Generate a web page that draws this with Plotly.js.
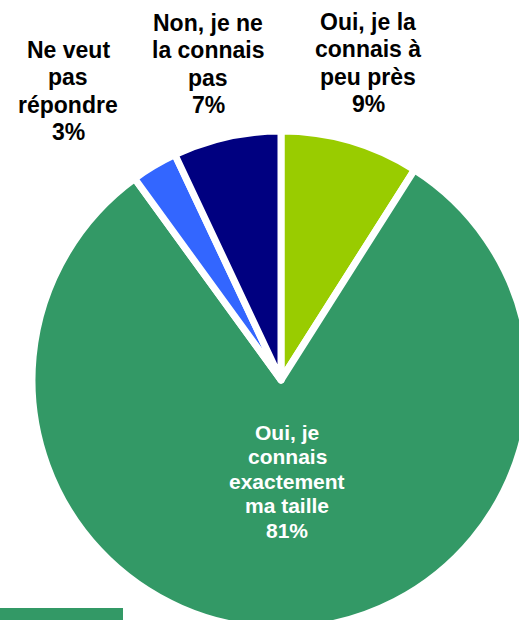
<!DOCTYPE html>
<html>
<head>
<meta charset="utf-8">
<script src="https://cdn.plot.ly/plotly-3.0.1.min.js"></script>
<style>
html,body{margin:0;padding:0;width:519px;height:620px;overflow:hidden;background:#fff;}
#chart{width:530px;height:630px;}
</style>
</head>
<body>
<div id="chart"></div>
<script>
// Data
var categories = [
  "Oui, je la<br>connais à<br>peu près",
  "Oui, je<br>connais<br>exactement<br>ma taille",
  "Ne veut<br>pas<br>répondre",
  "Non, je ne<br>la connais<br>pas"
];
var values = [9, 81, 3, 7];
var colors = ["#99CC00", "#339966", "#3366FF", "#000080"];
var labelColors = ["#000000", "#FFFFFF", "#000000", "#000000"];
var labelSizes = [23, 21, 23, 23];
var lineGaps = [27.5, 24.5, 27.5, 27.5];
// label block centres in page pixels (layout only)
var labelPos = [[368, 63], [287, 481], [68, 91], [208, 64]];

var W = 530, H = 630;
var margin = {l: 32, r: 0, t: 131, b: 1};
var pw = W - margin.l - margin.r, ph = H - margin.t - margin.b;
function px2x(px) { return (px - margin.l) / pw; }
function py2y(py) { return (H - margin.b - py) / ph; }

var annotations = [];
categories.forEach(function (c, i) {
  var lines = (c + "<br>" + values[i] + "%").split("<br>");
  var n = lines.length;
  lines.forEach(function (t, k) {
    var cy = labelPos[i][1] + (k - (n - 1) / 2) * lineGaps[i];
    annotations.push({
      text: t,
      xref: "paper", yref: "paper",
      x: px2x(labelPos[i][0]), y: py2y(cy),
      xanchor: "center", yanchor: "middle",
      showarrow: false, align: "center", borderpad: 0,
      font: {family: "Liberation Sans, Arial, sans-serif", size: labelSizes[i], color: labelColors[i], weight: "bold"}
    });
  });
});

var trace = {
  type: "pie",
  labels: categories,
  values: values,
  sort: false,
  direction: "clockwise",
  rotation: 0,
  textinfo: "none",
  hoverinfo: "none",
  marker: {colors: colors, line: {color: "#FFFFFF", width: 7}},
  domain: {x: [0, 1], y: [0, 1]}
};

var layout = {
  width: W, height: H,
  margin: margin,
  showlegend: false,
  paper_bgcolor: "#FFFFFF",
  annotations: annotations,
  shapes: [{
    type: "rect", xref: "paper", yref: "paper",
    x0: px2x(0), x1: px2x(123), y0: py2y(620), y1: py2y(608),
    fillcolor: "#339966", line: {width: 0}
  }]
};

Plotly.newPlot("chart", [trace], layout, {displayModeBar: false, staticPlot: true});
</script>
</body>
</html>
